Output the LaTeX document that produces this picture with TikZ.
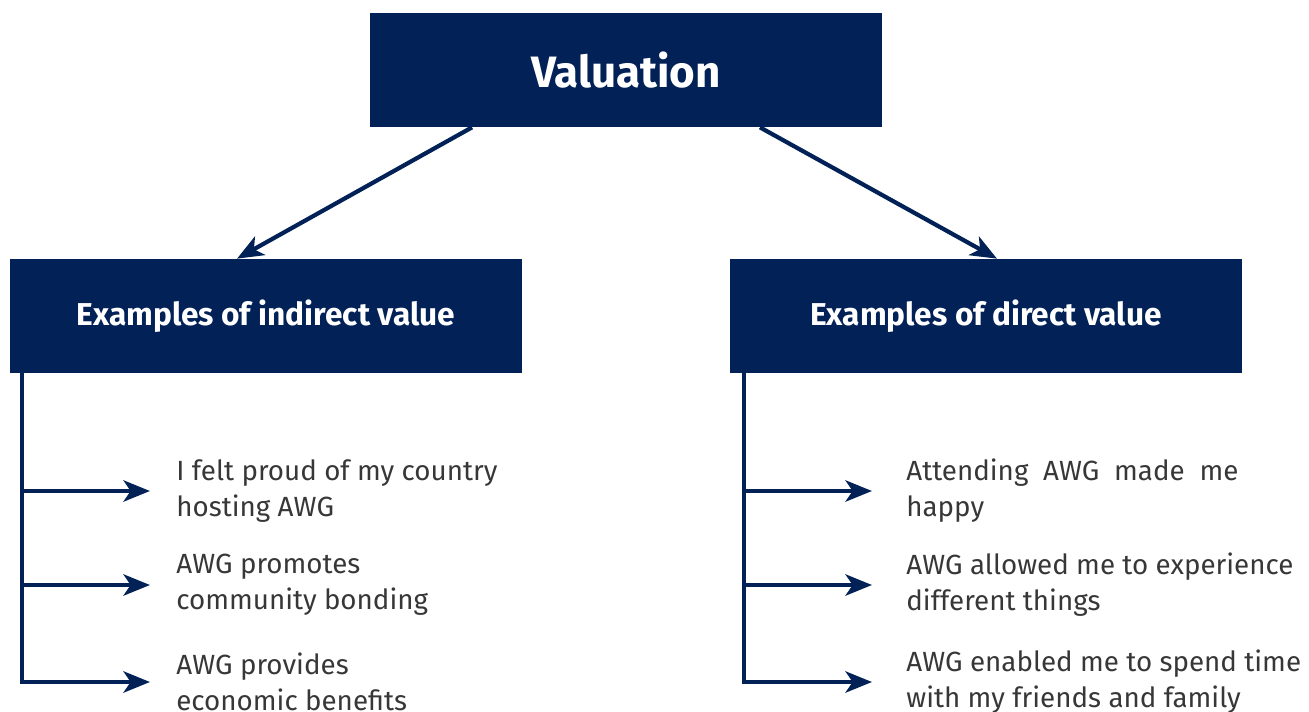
\documentclass[tikz,border=0pt]{standalone}
\usepackage{fontspec}
\setmainfont{Fira Sans}
\usetikzlibrary{arrows.meta, positioning}
\definecolor{awgblue}{RGB}{1,33,87}
\definecolor{awgtext}{RGB}{55,55,55}
\tikzset{
>={Stealth[length=15pt, width=12pt, inset=4pt]}, % bold arrow heads
headbox/.style={fill=awgblue, text=white, font=\bfseries\fontsize{18}{22}\selectfont,
  minimum width=10.24cm, minimum height=2.28cm, inner sep=0pt}, % filled title boxes
link/.style={->, draw=awgblue, line width=2.4pt}, % arrows between the boxes
branch/.style={->, draw=awgblue, line width=2.8pt}, % arrows out of a spine
spine/.style={draw=awgblue, line width=2.8pt}, % vertical bars
item/.style={anchor=west, text=awgtext, align=left, inner xsep=0.52cm, inner ysep=0pt,
  font=\fontsize{15.8}{20.5}\selectfont}, % the example texts
}

\begin{document}
\begin{tikzpicture}[x=0.02cm, y=-0.02cm]
    \useasboundingbox (0,0) rectangle (1309,711);

    \node[headbox, font=\bfseries\fontsize{25}{30}\selectfont] (val) at (626,70) {Valuation};
    \node[headbox] (indirect) at (266,316) {Examples of indirect value};
    \node[headbox] (direct) at (986,316) {Examples of direct value};

    \draw[link] ([xshift=-3.08cm]val.south) -- ([xshift=-0.58cm]indirect.north);
    \draw[link] ([xshift=2.68cm]val.south) -- ([xshift=0.22cm]direct.north);

    % left column
    \coordinate (lspine) at (22,373);
    \node[item] (ind1) at (150,491) {I felt proud of my country\\hosting AWG};
    \node[item] (ind2) at (150,585) {AWG promotes\\community bonding};
    \node[item] (ind3) at (150,682) {AWG provides\\economic benefits};
    \draw[spine] (lspine) |- ([xshift=-0.4cm]ind3.west);
    \draw[branch] (ind1.west -| lspine) -- (ind1.west);
    \draw[branch] (ind2.west -| lspine) -- (ind2.west);
    \draw[branch] (ind3.west -| lspine) -- (ind3.west);

    % right column
    \coordinate (rspine) at (744,373);
    \node[item, inner xsep=0.68cm] (dir1) at (872,491) {Attending~ AWG~ made~ me\\happy};
    \node[item, inner xsep=0.68cm] (dir2) at (872,585) {AWG allowed me to experience\\different things};
    \node[item, inner xsep=0.68cm] (dir3) at (872,682) {AWG enabled me to spend time\\with my friends and family};
    \draw[spine] (rspine) |- ([xshift=-0.4cm]dir3.west);
    \draw[branch] (dir1.west -| rspine) -- (dir1.west);
    \draw[branch] (dir2.west -| rspine) -- (dir2.west);
    \draw[branch] (dir3.west -| rspine) -- (dir3.west);
\end{tikzpicture}
\end{document}
